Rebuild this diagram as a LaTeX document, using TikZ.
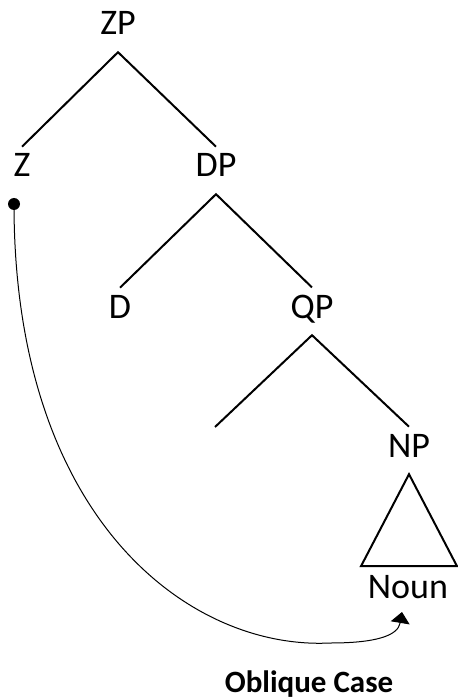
\documentclass[tikz,border=0pt]{standalone}
\usepackage{fontspec}
\setmainfont{Carlito}
\usetikzlibrary{arrows.meta}
\begin{document}
\begin{tikzpicture}[x=1pt,y=-1pt,
        cat/.style={font=\fontsize{36}{42}\selectfont, anchor=base, inner sep=7pt, text depth=10pt},
        branch/.style={line width=2pt}]
        \useasboundingbox (0,0) rectangle (457,700);

        % Draw category labels
        \node[cat] (zp) at (118,35) {ZP};
        \node[cat] (z) at (22,177) {Z};
        \node[cat] (dp) at (216,177) {DP};
        \node[cat] (d) at (120,318) {D};
        \node[cat] (qp) at (312,318) {QP};
        \node[cat] (np) at (409,457) {NP};
        \node[cat] (noun) at (408,598) {Noun};
        \coordinate (qpspec) at (215,427);

        % Draw branches
        \draw[branch] (z.north) -- (zp.south) -- (dp.north);
        \draw[branch] (d.north) -- (dp.south) -- (qp.north);
        \draw[branch] (qpspec) -- (qp.south) -- (np.north);

        % Triangle over the noun
        \draw[branch, line join=miter] (np.south) -- ++(-48,92) -- ++(96,0) -- cycle;

        % Case arrow from Z down to the noun
        \coordinate (zdot) at (14,204);
        \coordinate (nountip) at (402,612);
        \fill (zdot) circle (6pt);
        \draw[line width=1pt, -{Triangle[width=19pt,length=11pt]}] (zdot) .. controls (14,520) and (190,650) .. (330,643)
            .. controls (375,643) and (398,636) .. (nountip);
        \node[font=\bfseries\fontsize{31}{36}\selectfont, anchor=base] (oblique) at (309,692) {Oblique Case};
    \end{tikzpicture}
\end{document}
